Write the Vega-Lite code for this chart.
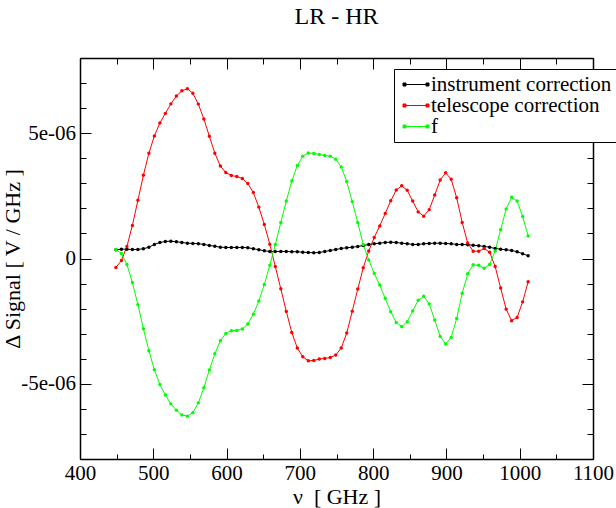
{
  "$schema": "https://vega.github.io/schema/vega-lite/v6.json",
  "description": "LR - HR: instrument correction, telescope correction and f against frequency.",
  "width": 513,
  "height": 401,
  "autosize": {"type": "none"},
  "padding": {"left": 80, "top": 58, "right": 23, "bottom": 49},
  "background": "white",
  "title": {
    "text": "LR - HR",
    "font": "Liberation Serif",
    "fontSize": 24,
    "fontWeight": "normal",
    "color": "#000000",
    "baseline": "alphabetic",
    "anchor": "middle",
    "offset": -1
  },
  "data": {
    "values": [
      {"nu": 449, "instrument correction": 0.35e-6, "telescope correction": -0.36e-6, "f": 0.36e-6},
      {"nu": 456.5, "instrument correction": 0.37e-6, "telescope correction": -0.08e-6, "f": 0.2e-6},
      {"nu": 464, "instrument correction": 0.37e-6, "telescope correction": 0.48e-6, "f": -0.24e-6},
      {"nu": 471.5, "instrument correction": 0.36e-6, "telescope correction": 1.32e-6, "f": -0.96e-6},
      {"nu": 479, "instrument correction": 0.36e-6, "telescope correction": 2.32e-6, "f": -1.84e-6},
      {"nu": 486.5, "instrument correction": 0.39e-6, "telescope correction": 3.32e-6, "f": -2.8e-6},
      {"nu": 494, "instrument correction": 0.45e-6, "telescope correction": 4.2e-6, "f": -3.68e-6},
      {"nu": 501.5, "instrument correction": 0.56e-6, "telescope correction": 4.89e-6, "f": -4.44e-6},
      {"nu": 509, "instrument correction": 0.64e-6, "telescope correction": 5.41e-6, "f": -5.03e-6},
      {"nu": 516.5, "instrument correction": 0.68e-6, "telescope correction": 5.79e-6, "f": -5.45e-6},
      {"nu": 524, "instrument correction": 0.69e-6, "telescope correction": 6.17e-6, "f": -5.8e-6},
      {"nu": 531.5, "instrument correction": 0.67e-6, "telescope correction": 6.48e-6, "f": -6.05e-6},
      {"nu": 539, "instrument correction": 0.64e-6, "telescope correction": 6.69e-6, "f": -6.24e-6},
      {"nu": 546.5, "instrument correction": 0.61e-6, "telescope correction": 6.77e-6, "f": -6.29e-6},
      {"nu": 554, "instrument correction": 0.6e-6, "telescope correction": 6.59e-6, "f": -6.15e-6},
      {"nu": 561.5, "instrument correction": 0.59e-6, "telescope correction": 6.16e-6, "f": -5.76e-6},
      {"nu": 569, "instrument correction": 0.56e-6, "telescope correction": 5.57e-6, "f": -5.16e-6},
      {"nu": 576.5, "instrument correction": 0.52e-6, "telescope correction": 4.88e-6, "f": -4.45e-6},
      {"nu": 584, "instrument correction": 0.49e-6, "telescope correction": 4.2e-6, "f": -3.8e-6},
      {"nu": 591.5, "instrument correction": 0.45e-6, "telescope correction": 3.69e-6, "f": -3.28e-6},
      {"nu": 599, "instrument correction": 0.44e-6, "telescope correction": 3.43e-6, "f": -2.99e-6},
      {"nu": 606.5, "instrument correction": 0.44e-6, "telescope correction": 3.31e-6, "f": -2.88e-6},
      {"nu": 614, "instrument correction": 0.44e-6, "telescope correction": 3.27e-6, "f": -2.87e-6},
      {"nu": 621.5, "instrument correction": 0.44e-6, "telescope correction": 3.19e-6, "f": -2.81e-6},
      {"nu": 629, "instrument correction": 0.43e-6, "telescope correction": 2.99e-6, "f": -2.61e-6},
      {"nu": 636.5, "instrument correction": 0.39e-6, "telescope correction": 2.63e-6, "f": -2.22e-6},
      {"nu": 644, "instrument correction": 0.35e-6, "telescope correction": 2.05e-6, "f": -1.7e-6},
      {"nu": 651.5, "instrument correction": 0.31e-6, "telescope correction": 1.36e-6, "f": -1.04e-6},
      {"nu": 659, "instrument correction": 0.28e-6, "telescope correction": 0.57e-6, "f": -0.27e-6},
      {"nu": 666.5, "instrument correction": 0.28e-6, "telescope correction": -0.32e-6, "f": 0.56e-6},
      {"nu": 674, "instrument correction": 0.28e-6, "telescope correction": -1.21e-6, "f": 1.44e-6},
      {"nu": 681.5, "instrument correction": 0.28e-6, "telescope correction": -2.11e-6, "f": 2.29e-6},
      {"nu": 689, "instrument correction": 0.27e-6, "telescope correction": -2.95e-6, "f": 3.09e-6},
      {"nu": 696.5, "instrument correction": 0.27e-6, "telescope correction": -3.57e-6, "f": 3.71e-6},
      {"nu": 704, "instrument correction": 0.25e-6, "telescope correction": -3.92e-6, "f": 4.08e-6},
      {"nu": 711.5, "instrument correction": 0.24e-6, "telescope correction": -4.08e-6, "f": 4.21e-6},
      {"nu": 719, "instrument correction": 0.23e-6, "telescope correction": -4.07e-6, "f": 4.19e-6},
      {"nu": 726.5, "instrument correction": 0.24e-6, "telescope correction": -4.01e-6, "f": 4.15e-6},
      {"nu": 734, "instrument correction": 0.28e-6, "telescope correction": -3.99e-6, "f": 4.11e-6},
      {"nu": 741.5, "instrument correction": 0.32e-6, "telescope correction": -3.95e-6, "f": 4.08e-6},
      {"nu": 749, "instrument correction": 0.36e-6, "telescope correction": -3.85e-6, "f": 3.96e-6},
      {"nu": 756.5, "instrument correction": 0.4e-6, "telescope correction": -3.57e-6, "f": 3.65e-6},
      {"nu": 764, "instrument correction": 0.43e-6, "telescope correction": -2.97e-6, "f": 3.07e-6},
      {"nu": 771.5, "instrument correction": 0.45e-6, "telescope correction": -2.1e-6, "f": 2.27e-6},
      {"nu": 779, "instrument correction": 0.48e-6, "telescope correction": -1.22e-6, "f": 1.44e-6},
      {"nu": 786.5, "instrument correction": 0.52e-6, "telescope correction": -0.37e-6, "f": 0.56e-6},
      {"nu": 794, "instrument correction": 0.56e-6, "telescope correction": 0.3e-6, "f": -0.06e-6},
      {"nu": 801.5, "instrument correction": 0.59e-6, "telescope correction": 0.84e-6, "f": -0.59e-6},
      {"nu": 809, "instrument correction": 0.61e-6, "telescope correction": 1.3e-6, "f": -1.06e-6},
      {"nu": 816.5, "instrument correction": 0.64e-6, "telescope correction": 1.8e-6, "f": -1.6e-6},
      {"nu": 824, "instrument correction": 0.65e-6, "telescope correction": 2.3e-6, "f": -2.12e-6},
      {"nu": 831.5, "instrument correction": 0.64e-6, "telescope correction": 2.73e-6, "f": -2.55e-6},
      {"nu": 839, "instrument correction": 0.61e-6, "telescope correction": 2.9e-6, "f": -2.72e-6},
      {"nu": 846.5, "instrument correction": 0.59e-6, "telescope correction": 2.72e-6, "f": -2.52e-6},
      {"nu": 854, "instrument correction": 0.56e-6, "telescope correction": 2.29e-6, "f": -2.09e-6},
      {"nu": 861.5, "instrument correction": 0.56e-6, "telescope correction": 1.86e-6, "f": -1.67e-6},
      {"nu": 869, "instrument correction": 0.59e-6, "telescope correction": 1.69e-6, "f": -1.51e-6},
      {"nu": 876.5, "instrument correction": 0.6e-6, "telescope correction": 1.95e-6, "f": -1.81e-6},
      {"nu": 884, "instrument correction": 0.61e-6, "telescope correction": 2.53e-6, "f": -2.45e-6},
      {"nu": 891.5, "instrument correction": 0.61e-6, "telescope correction": 3.13e-6, "f": -3.11e-6},
      {"nu": 899, "instrument correction": 0.6e-6, "telescope correction": 3.42e-6, "f": -3.41e-6},
      {"nu": 906.5, "instrument correction": 0.59e-6, "telescope correction": 3.16e-6, "f": -3.15e-6},
      {"nu": 914, "instrument correction": 0.56e-6, "telescope correction": 2.42e-6, "f": -2.39e-6},
      {"nu": 921.5, "instrument correction": 0.56e-6, "telescope correction": 1.44e-6, "f": -1.39e-6},
      {"nu": 929, "instrument correction": 0.55e-6, "telescope correction": 0.62e-6, "f": -0.61e-6},
      {"nu": 936.5, "instrument correction": 0.53e-6, "telescope correction": 0.29e-6, "f": -0.25e-6},
      {"nu": 944, "instrument correction": 0.51e-6, "telescope correction": 0.29e-6, "f": -0.27e-6},
      {"nu": 951.5, "instrument correction": 0.48e-6, "telescope correction": 0.4e-6, "f": -0.39e-6},
      {"nu": 959, "instrument correction": 0.45e-6, "telescope correction": 0.25e-6, "f": -0.24e-6},
      {"nu": 966.5, "instrument correction": 0.4e-6, "telescope correction": -0.32e-6, "f": 0.3e-6},
      {"nu": 974, "instrument correction": 0.37e-6, "telescope correction": -1.18e-6, "f": 1.15e-6},
      {"nu": 981.5, "instrument correction": 0.35e-6, "telescope correction": -2.02e-6, "f": 1.98e-6},
      {"nu": 989, "instrument correction": 0.32e-6, "telescope correction": -2.48e-6, "f": 2.44e-6},
      {"nu": 996.5, "instrument correction": 0.27e-6, "telescope correction": -2.35e-6, "f": 2.29e-6},
      {"nu": 1004, "instrument correction": 0.19e-6, "telescope correction": -1.73e-6, "f": 1.68e-6},
      {"nu": 1011.5, "instrument correction": 0.11e-6, "telescope correction": -0.93e-6, "f": 0.9e-6}
    ]
  },
  "transform": [
    {"fold": ["instrument correction", "telescope correction", "f"], "as": ["series", "signal"]}
  ],
  "layer": [
    {
      "mark": {"type": "line", "strokeWidth": 1, "point": {"filled": true, "size": 12}},
      "encoding": {
        "x": {
          "field": "nu",
          "type": "quantitative",
          "scale": {"domain": [400, 1100], "nice": false, "zero": false},
          "axis": {
            "orient": "bottom",
            "title": "ν\u00a0 [ GHz ]",
            "values": [400, 450, 500, 550, 600, 650, 700, 750, 800, 850, 900, 950, 1000, 1050, 1100],
            "format": "d",
            "labelExpr": "datum.value % 100 == 0 ? datum.label : ''",
            "tickSize": {"condition": {"test": "datum.value % 100 == 0", "value": -11}, "value": -5},
            "labelPadding": 14,
            "titlePadding": -3
          }
        },
        "y": {
          "field": "signal",
          "type": "quantitative",
          "scale": {"domain": [-8e-6, 8e-6], "nice": false, "zero": false},
          "axis": {
            "orient": "left",
            "title": "Δ Signal [ V / GHz ]",
            "values": [-8e-6, -7e-6, -6e-6, -5e-6, -4e-6, -3e-6, -2e-6, -1e-6, 0, 1e-6, 2e-6, 3e-6, 4e-6, 5e-6, 6e-6, 7e-6, 8e-6],
            "labelExpr": "abs(datum.value) < 1e-9 ? '0' : (abs(abs(datum.value) - 5e-6) < 1e-9 ? (datum.value < 0 ? '-' : '') + replace(format(abs(datum.value), '.0e'), 'e-', 'e-0') : '')",
            "tickSize": {"condition": {"test": "abs(datum.value) < 1e-9 || abs(abs(datum.value) - 5e-6) < 1e-9", "value": -11}, "value": -6},
            "labelPadding": 15.5,
            "titlePadding": -4
          }
        },
        "color": {
          "field": "series",
          "type": "nominal",
          "scale": {
            "domain": ["instrument correction", "telescope correction", "f"],
            "range": ["#000000", "#ff0000", "#00ff00"]
          },
          "legend": {
            "title": null,
            "orient": "none",
            "legendX": 314,
            "legendY": 11,
            "padding": 5,
            "strokeColor": "#000000",
            "fillColor": "#ffffff",
            "cornerRadius": 0,
            "labelFont": "Liberation Serif",
            "labelFontSize": 21,
            "labelColor": "#000000",
            "labelLimit": 400,
            "labelOffset": 11,
            "rowPadding": -3,
            "symbolSize": 100,
            "symbolStrokeWidth": 1,
            "symbolType": "M-1,0H3.6M-1.3,-0.3h0.6v0.6h-0.6zM3.3,-0.3h0.6v0.6h-0.6z",
            "encode": {
              "symbols": {
                "update": {
                  "fill": {"scale": "color", "field": "value"},
                  "stroke": {"scale": "color", "field": "value"},
                  "opacity": {"value": 1}
                }
              }
            }
          }
        }
      }
    },
    {
      "mark": {"type": "point", "opacity": 0},
      "encoding": {
        "x": {
          "field": "nu",
          "type": "quantitative",
          "scale": {"domain": [400, 1100], "nice": false, "zero": false},
          "axis": {
            "orient": "top",
            "title": null,
            "labels": false,
            "values": [400, 450, 500, 550, 600, 650, 700, 750, 800, 850, 900, 950, 1000, 1050, 1100],
            "tickSize": {"condition": {"test": "datum.value % 100 == 0", "value": -11}, "value": -6}
          }
        },
        "y": {
          "field": "signal",
          "type": "quantitative",
          "scale": {"domain": [-8e-6, 8e-6], "nice": false, "zero": false},
          "axis": {
            "orient": "right",
            "title": null,
            "labels": false,
            "values": [-8e-6, -7e-6, -6e-6, -5e-6, -4e-6, -3e-6, -2e-6, -1e-6, 0, 1e-6, 2e-6, 3e-6, 4e-6, 5e-6, 6e-6, 7e-6, 8e-6],
            "tickSize": {"condition": {"test": "abs(datum.value) < 1e-9 || abs(abs(datum.value) - 5e-6) < 1e-9", "value": -11}, "value": -6}
          }
        }
      }
    }
  ],
  "resolve": {"axis": {"x": "independent", "y": "independent"}},
  "config": {
    "view": {"stroke": null},
    "axis": {
      "grid": false,
      "labelFont": "Liberation Serif",
      "titleFont": "Liberation Serif",
      "labelFontSize": 21,
      "titleFontSize": 22,
      "titleFontWeight": "normal",
      "labelColor": "#000000",
      "titleColor": "#000000",
      "domainColor": "#000000",
      "domainWidth": 1.5,
      "tickColor": "#000000",
      "tickWidth": 1,
      "labelFlush": false,
      "labelOverlap": false
    }
  }
}
